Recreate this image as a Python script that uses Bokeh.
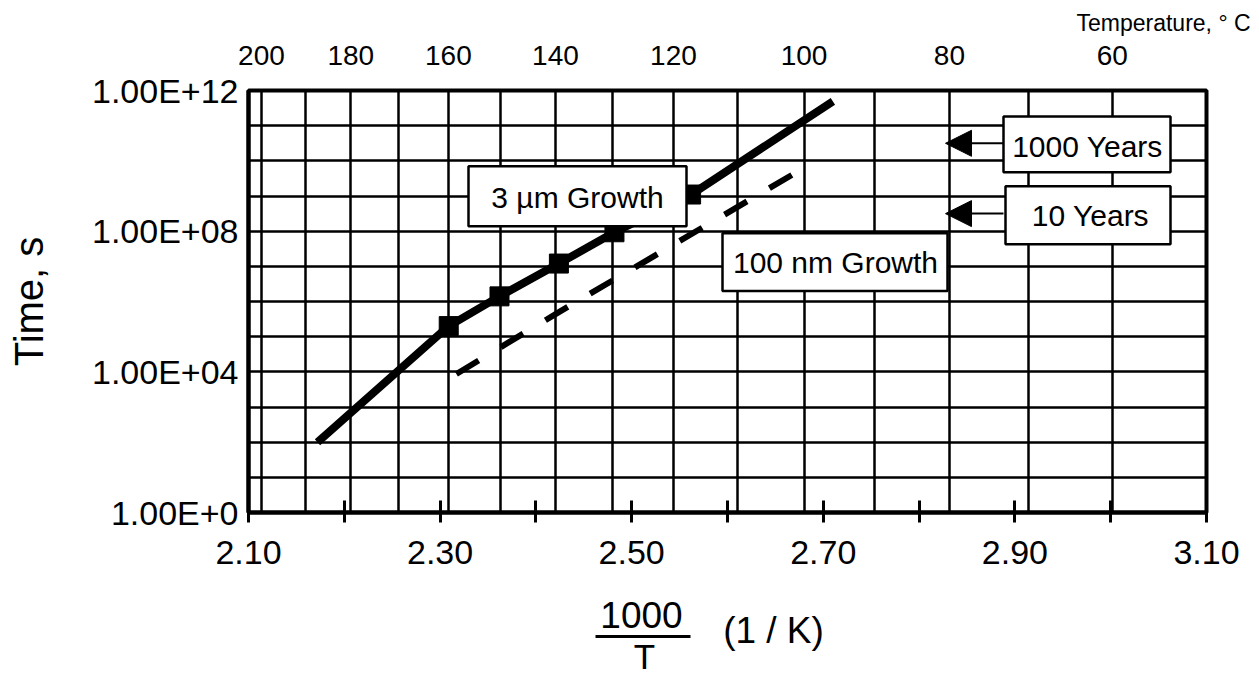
import math
from bokeh.plotting import figure
from bokeh.layouts import column
from bokeh.models import (Range1d, FixedTicker, LinearAxis, Label, BoxAnnotation,
                          Arrow, NormalHead, CustomJSTickFormatter, NumeralTickFormatter)
from bokeh.embed import file_html
from bokeh.resources import INLINE

# ---------------- data ----------------
# 3 um growth (solid line) : 1000/T (1/K) vs time (s)
solid_x = [2.172, 2.309, 2.362, 2.424, 2.482, 2.562, 2.710]
solid_y = [1.0e2, 2.0e5, 1.4e6, 1.2e7, 9.3e7, 1.1e9, 4.9e11]
# measured points (square markers)
marker_x = [2.309, 2.362, 2.424, 2.482, 2.562]
marker_y = [2.0e5, 1.4e6, 1.2e7, 9.3e7, 1.1e9]
# 100 nm growth (dashed line)
dash_x = [2.317, 2.424, 2.677]
dash_y = [8.7e3, 5.0e5, 5.7e9]

# axes
x_label_ticks = [2.1, 2.3, 2.5, 2.7, 2.9, 3.1]
x_minor_ticks = [2.2, 2.4, 2.6, 2.8, 3.0]
y_ticks = [1, 10**4, 10**8, 10**12]
y_tick_labels = ["1.00E+0", "1.00E+04", "1.00E+08", "1.00E+12"]
y_grid = [10**k for k in range(0, 13)]
top_temps_c = [200, 180, 160, 140, 120, 100, 80, 60]
grid_temps_c = [200, 190, 180, 170, 160, 150, 140, 130, 120, 110, 100, 90, 80, 70, 60]

# reference times (s)
t_1000_years = 1000 * 365.25 * 86400
t_10_years = 10 * 365.25 * 86400

FONT = "Liberation Sans"
W = 1259
H_MAIN = 590
H_SUB = 676 - H_MAIN


def inv_t(tc):
    return 1000.0 / (tc + 273.15)


p = figure(width=W, height=H_MAIN, x_range=Range1d(2.10, 3.10), y_range=Range1d(1, 1e12),
           y_axis_type="log", output_backend="svg", toolbar_location=None,
           min_border_left=248, min_border_right=53, min_border_top=89, min_border_bottom=H_MAIN - 512)
p.background_fill_color = "white"
p.border_fill_color = "white"
p.outline_line_color = "black"
p.outline_line_width = 4

# title -> "Temperature, ° C" top right
p.title.text = "Temperature, ° C"
p.title.align = "left"
p.title.offset = 828
p.title.standoff = 14
p.title.text_font = FONT
p.title.text_font_size = "23px"
p.title.text_font_style = "normal"
p.title.text_color = "black"

# grids
p.xgrid.ticker = FixedTicker(ticks=[inv_t(t) for t in grid_temps_c])
p.xgrid.grid_line_color = "black"
p.xgrid.grid_line_width = 2.5
p.ygrid.ticker = FixedTicker(ticks=y_grid)
p.ygrid.grid_line_color = "black"
p.ygrid.grid_line_width = 2.5

# bottom axis
xa = p.below[0]
xa.ticker = FixedTicker(ticks=x_label_ticks, minor_ticks=x_minor_ticks)
xa.formatter = NumeralTickFormatter(format="0.00")
xa.major_label_text_font = FONT
xa.major_label_text_font_size = "34px"
xa.major_label_text_color = "black"
xa.major_tick_in = 12
xa.major_tick_out = 10
xa.minor_tick_in = 12
xa.minor_tick_out = 10
xa.major_tick_line_width = 3
xa.minor_tick_line_width = 3
xa.major_tick_line_color = "black"
xa.minor_tick_line_color = "black"
xa.axis_line_width = 4
xa.axis_line_color = "black"
xa.major_label_standoff = 18

# left axis
ya = p.left[0]
ya.ticker = FixedTicker(ticks=y_ticks)
ya.major_label_overrides = dict(zip(y_ticks, y_tick_labels))
ya.major_label_text_font = FONT
ya.major_label_text_font_size = "34px"
ya.major_label_text_color = "black"
ya.major_tick_in = 0
ya.major_tick_out = 0
ya.minor_tick_line_color = None
ya.axis_line_width = 4
ya.axis_line_color = "black"
ya.major_label_standoff = 10
ya.axis_label = "Time, s"
ya.axis_label_text_font = FONT
ya.axis_label_text_font_size = "40px"
ya.axis_label_text_font_style = "normal"
ya.axis_label_text_color = "black"
ya.axis_label_standoff = 38

# top axis (temperature, C)
top = LinearAxis(ticker=FixedTicker(ticks=[inv_t(t) for t in top_temps_c]),
                 formatter=CustomJSTickFormatter(code="return (1000/tick - 273.15).toFixed(0);"))
top.major_tick_in = 0
top.major_tick_out = 0
top.minor_tick_line_color = None
top.axis_line_color = None
top.major_label_text_font = FONT
top.major_label_text_font_size = "28px"
top.major_label_text_color = "black"
top.major_label_standoff = 26
p.add_layout(top, "above")

# data
p.line(solid_x, solid_y, line_color="black", line_width=8)
p.scatter(marker_x, marker_y, marker="square", size=19, fill_color="black", line_color="black")
p.line(dash_x, dash_y, line_color="black", line_width=6, line_dash="26 26")


def dec(py):
    return 10 ** ((512 - py) / 35.25)


def xd(px):
    return 2.10 + (px - 248) / 958.0


def box(l, r, t, b):
    p.add_layout(BoxAnnotation(left=xd(l), right=xd(r), top=dec(t), bottom=dec(b),
                               fill_color="white", fill_alpha=1.0,
                               line_color="black", line_width=2.5, line_alpha=1.0))


def label(px, py, text, size="30px"):
    p.add_layout(Label(x=xd(px), y=dec(py), text=text, text_align="center", text_baseline="middle",
                       text_font=FONT, text_font_size=size, text_color="black"))


box(468, 686, 165, 225)
label(577, 196, "3 µm Growth")
box(722, 947, 232, 290)
label(835, 261, "100 nm Growth")
box(1003, 1170, 115, 171)
label(1087, 145, "1000 Years")
box(1005, 1170, 185, 243)
label(1090, 214, "10 Years")

for tt in (t_1000_years, t_10_years):
    p.add_layout(Arrow(end=NormalHead(size=26, fill_color="black", line_color="black"),
                       x_start=xd(1003), y_start=tt, x_end=xd(945), y_end=tt,
                       line_color="black", line_width=2))

# ---------------- x axis title strip: 1000/T (1 / K) ----------------
# its frame is aligned with the main frame (x pixels 248..1206)
q = figure(width=W, height=H_SUB, x_range=Range1d(248, 1206), y_range=Range1d(676, H_MAIN),
           output_backend="svg", toolbar_location=None,
           x_axis_location=None, y_axis_location=None,
           min_border_left=0, min_border_right=0, min_border_top=0, min_border_bottom=0)
q.grid.visible = False
q.outline_line_color = None
q.background_fill_color = "white"
q.border_fill_color = "white"

for (tx, ty, tt, fs) in [(641, 614, "1000", "37px"), (644, 656, "T", "35px"), (773, 630, "(1 / K)", "37px")]:
    q.add_layout(Label(x=tx, y=ty, text=tt, text_align="center", text_baseline="middle",
                       text_font=FONT, text_font_size=fs, text_color="black"))
q.segment(x0=[595], y0=[636], x1=[690], y1=[636], line_color="black", line_width=3)

layout = column(p, q, spacing=0)
open("out.html", "w").write(file_html(layout, INLINE))
